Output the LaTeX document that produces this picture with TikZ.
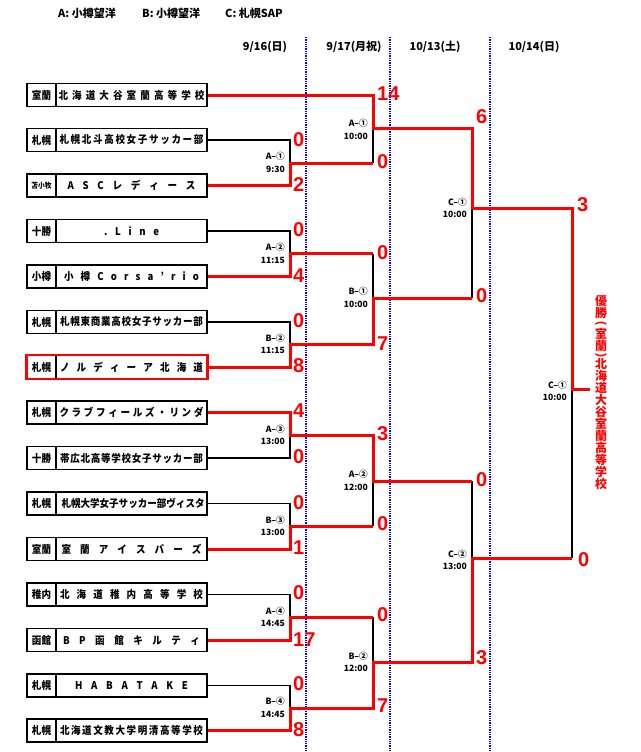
\documentclass[tikz,border=0pt]{standalone}
\usepackage{fontspec}
\usepackage{graphicx}
\setmainfont{Noto Sans CJK JP}
\newfontfamily\latb{Liberation Sans}
\def\spA#1#2\spEnd{#1\ifx\relax#2\relax\else\hfill\spA#2\spEnd\fi}
\newcommand\tname[2]{\scalebox{0.9}[1]{\makebox[\dimexpr #1pt*10/9\relax][s]{\spA#2\spEnd}}}
\newcommand\pname[1]{\scalebox{0.9}[1]{#1}}
\newcommand\tfont{\fontsize{10.6}{13}\selectfont\bfseries}
\newcommand\scfont{\latb\bfseries\fontsize{20}{20}\selectfont}
\newcommand\mfont{\fontsize{8.6}{12.5}\selectfont\bfseries}
\newcommand\hfont{\fontsize{11}{13}\selectfont\bfseries}
\newcommand\vfont{\fontsize{12}{12}\selectfont\bfseries}
\newcommand\lpar{{\latb\bfseries\rotatebox{-90}{(}}}
\newcommand\rpar{{\latb\bfseries\rotatebox{-90}{)}}}
\tikzset{
 x=1pt, y=-1pt,
 redl/.style={draw=red, line width=3pt, line join=miter},
 blkl/.style={draw=black, line width=1.1pt},
 bluedot/.style={draw=blue, densely dotted, line width=1.3pt},
 tbox/.style={draw=black, line width=1.2pt, minimum width=151pt, minimum height=23pt, inner sep=0pt, fill=white, font=\tfont},
 pbox/.style={draw=black, line width=1.2pt, minimum width=29pt, minimum height=23pt, inner sep=0pt, fill=white, font=\tfont},
 score/.style={anchor=west, inner sep=0pt, text=red, font=\scfont},
 mlab/.style={anchor=east, align=right, inner sep=0pt, font=\mfont},
 vt/.style={inner sep=0pt, text=red, font=\vfont},
 hdr/.style={inner sep=0pt, font=\hfont},
}
\begin{document}
\begin{tikzpicture}
\fill[white] (0,0) rectangle (640,752);
\useasboundingbox (0,0) rectangle (640,752);

% header
\node[hdr, anchor=west] (h1) at (58,13.5) {A: 小樽望洋};
\node[hdr, anchor=west] (h2) at (142,13.5) {B: 小樽望洋};
\node[hdr, anchor=west] (h3) at (225,13.5) {C: 札幌SAP};
\node[hdr] (d1) at (265,47) {9/16(日)};
\node[hdr] (d2) at (354,47) {9/17(月祝)};
\node[hdr] (d3) at (435,47) {10/13(土)};
\node[hdr] (d4) at (534,47) {10/14(日)};

% blue dotted separators
\draw[bluedot] (306,37) -- (306,752);
\draw[bluedot] (390,37) -- (390,752);
\draw[bluedot] (490,37) -- (490,752);

% teams
\node[pbox] (p1) at (41.5,95) {\pname{室蘭}};
\node[tbox] (t1) at (131.5,95) {\tname{146}{北海道大谷室蘭高等学校}};
\node[pbox] (p2) at (41.5,140) {\pname{札幌}};
\node[tbox] (t2) at (131.5,140) {\tname{144}{札幌北斗高校女子サッカー部}};
\node[pbox] (p3) at (41.5,185.5) {\fontsize{7.5}{8}\selectfont\pname{苫小牧}};
\node[tbox] (t3) at (131.5,185.5) {\tname{128}{ASCレディース}};
\node[pbox] (p4) at (41.5,231) {\pname{十勝}};
\node[tbox] (t4) at (131.5,231) {\tname{55}{.Line}};
\node[pbox] (p5) at (41.5,276.5) {\pname{小樽}};
\node[tbox] (t5) at (131.5,276.5) {\tname{135}{小樽Corsa'rio}};
\node[pbox] (p6) at (41.5,322) {\pname{札幌}};
\node[tbox] (t6) at (131.5,322) {\tname{143}{札幌東商業高校女子サッカー部}};
\node[pbox] (p7) at (41.5,367) {\pname{札幌}};
\node[tbox] (t7) at (131.5,367) {\tname{143}{ノルディーア北海道}};
\node[pbox] (p8) at (41.5,412.5) {\pname{札幌}};
\node[tbox] (t8) at (131.5,412.5) {\tname{144}{クラブフィールズ・リンダ}};
\node[pbox] (p9) at (41.5,458) {\pname{十勝}};
\node[tbox] (t9) at (131.5,458) {\tname{143}{帯広北高等学校女子サッカー部}};
\node[pbox] (p10) at (41.5,503.5) {\pname{札幌}};
\node[tbox] (t10) at (131.5,503.5) {\tname{140}{札幌大学女子サッカー部ヴィスタ}};
\node[pbox] (p11) at (41.5,549) {\pname{室蘭}};
\node[tbox] (t11) at (131.5,549) {\tname{140}{室蘭アイスバーズ}};
\node[pbox] (p12) at (41.5,594.5) {\pname{稚内}};
\node[tbox] (t12) at (131.5,594.5) {\tname{143}{北海道稚内高等学校}};
\node[pbox] (p13) at (41.5,640) {\pname{函館}};
\node[tbox] (t13) at (131.5,640) {\tname{137}{BP函館キルティ}};
\node[pbox] (p14) at (41.5,685.5) {\pname{札幌}};
\node[tbox] (t14) at (131.5,685.5) {\tname{113}{HABATAKE}};
\node[pbox] (p15) at (41.5,730.5) {\pname{札幌}};
\node[tbox] (t15) at (131.5,730.5) {\tname{143}{北海道文教大学明清高等学校}};
\draw[red, line width=2.4pt] (p7.north west) rectangle (t7.south east);

% match joins
\coordinate (m1) at (290,163);
\coordinate (m2) at (290,253.75);
\coordinate (m3) at (290,344.5);
\coordinate (m4) at (290,435.25);
\coordinate (m5) at (290,526.25);
\coordinate (m6) at (290,617.25);
\coordinate (m7) at (290,708);
\coordinate (n1) at (373,128);
\coordinate (n2) at (373,298);
\coordinate (n3) at (373,481);
\coordinate (n4) at (373,662.5);
\coordinate (c1) at (472,208);
\coordinate (c2) at (472,558);
\coordinate (f) at (572,389);
\coordinate (fe) at (590,389);

% black (losing) lines
\draw[blkl] (t2.east) -- (t2.east -| m1) -- (m1);
\draw[blkl] (t4.east) -- (t4.east -| m2) -- (m2);
\draw[blkl] (t6.east) -- (t6.east -| m3) -- (m3);
\draw[blkl] (t9.east) -- (t9.east -| m4) -- (m4);
\draw[blkl] (t10.east) -- (t10.east -| m5) -- (m5);
\draw[blkl] (t12.east) -- (t12.east -| m6) -- (m6);
\draw[blkl] (t14.east) -- (t14.east -| m7) -- (m7);
\draw[blkl] (m1 -| n1) -- (n1);
\draw[blkl] (m2 -| n2) -- (n2);
\draw[blkl] (m5 -| n3) -- (n3);
\draw[blkl] (m6 -| n4) -- (n4);
\draw[blkl] (n2 -| c1) -- (c1);
\draw[blkl] (n3 -| c2) -- (c2);
\draw[blkl] (c2 -| f) -- (f);

% red (winning) lines
\draw[redl] (t1.east) -- (t1.east -| n1) -- (n1) -- (n1 -| c1) -- (c1) -- (c1 -| f) -- (f) -- (fe);
\draw[redl] (t3.east) -- (t3.east -| m1) -- (m1) -- (m1 -| n1);
\draw[redl] (t5.east) -- (t5.east -| m2) -- (m2) -- (m2 -| n2);
\draw[redl] (t7.east) -- (t7.east -| m3) -- (m3) -- (m3 -| n2) -- (n2) -- (n2 -| c1);
\draw[redl] (t8.east) -- (t8.east -| m4) -- (m4) -- (m4 -| n3) -- (n3) -- (n3 -| c2);
\draw[redl] (t11.east) -- (t11.east -| m5) -- (m5) -- (m5 -| n3);
\draw[redl] (t13.east) -- (t13.east -| m6) -- (m6) -- (m6 -| n4);
\draw[redl] (t15.east) -- (t15.east -| m7) -- (m7) -- (m7 -| n4) -- (n4) -- (n4 -| c2) -- (c2) -- (c2 -| f);

% match labels
\node[mlab] (l1) at ([xshift=-5pt,yshift=0.5pt]m1) {A–①\\9:30};
\node[mlab] (l2) at ([xshift=-5pt,yshift=0.5pt]m2) {A–②\\11:15};
\node[mlab] (l3) at ([xshift=-5pt,yshift=0.5pt]m3) {B–②\\11:15};
\node[mlab] (l4) at ([xshift=-5pt,yshift=0.5pt]m4) {A–③\\13:00};
\node[mlab] (l5) at ([xshift=-5pt,yshift=0.5pt]m5) {B–③\\13:00};
\node[mlab] (l6) at ([xshift=-5pt,yshift=0.5pt]m6) {A–④\\14:45};
\node[mlab] (l7) at ([xshift=-5pt,yshift=0.5pt]m7) {B–④\\14:45};
\node[mlab] (l8) at ([xshift=-5pt,yshift=-1.5pt]n1) {A–①\\10:00};
\node[mlab] (l9) at ([xshift=-5pt,yshift=0.5pt]n2) {B–①\\10:00};
\node[mlab] (l10) at ([xshift=-5pt,yshift=0.5pt]n3) {A–②\\12:00};
\node[mlab] (l11) at ([xshift=-5pt,yshift=0.5pt]n4) {B–②\\12:00};
\node[mlab] (l12) at ([xshift=-5pt,yshift=0pt]c1) {C–①\\10:00};
\node[mlab] (l13) at ([xshift=-5pt,yshift=-2pt]c2) {C–②\\13:00};
\node[mlab] (l14) at ([xshift=-5pt,yshift=-2pt]f) {C–①\\10:00};

% scores round 1
\node[score] (s2) at (293,140) {0};
\node[score] (s3) at (293,185) {2};
\node[score] (s4) at (293,230) {0};
\node[score] (s5) at (293,276) {4};
\node[score] (s6) at (293,321) {0};
\node[score] (s7) at (293,366) {8};
\node[score] (s8) at (293,411) {4};
\node[score] (s9) at (293,457) {0};
\node[score] (s10) at (293,503) {0};
\node[score] (s11) at (293,548) {1};
\node[score] (s12) at (293,593) {0};
\node[score] (s13) at (293,640) {17};
\node[score] (s14) at (293,684) {0};
\node[score] (s15) at (293,730) {8};
% scores round 2
\node[score] (s1) at (377,94) {14};
\node[score] (u1) at (377,162) {0};
\node[score] (u2) at (377,253) {0};
\node[score] (u3) at (377,343.5) {7};
\node[score] (u4) at (377,434) {3};
\node[score] (u5) at (377,524) {0};
\node[score] (u6) at (377,615) {0};
\node[score] (u7) at (377,705.5) {7};
% scores round 3
\node[score] (w1) at (476,117) {6};
\node[score] (w2) at (476,296) {0};
\node[score] (w3) at (476,480) {0};
\node[score] (w4) at (476,658) {3};
% final scores
\node[score] (z1) at (577,205) {3};
\node[score] (z2) at (578,560) {0};

% champion (vertical text)
\foreach \c/\yy [count=\k] in {優/301, 勝/313, {\lpar}/323.5, 室/333.5, 蘭/345.5, {\rpar}/355.5, 北/364, 海/376, 道/388, 大/400, 谷/412, 室/424, 蘭/436, 高/448, 等/460, 学/472, 校/484}
  \node[vt] (v\k) at (601,\yy) {\c};
\end{tikzpicture}
\end{document}
